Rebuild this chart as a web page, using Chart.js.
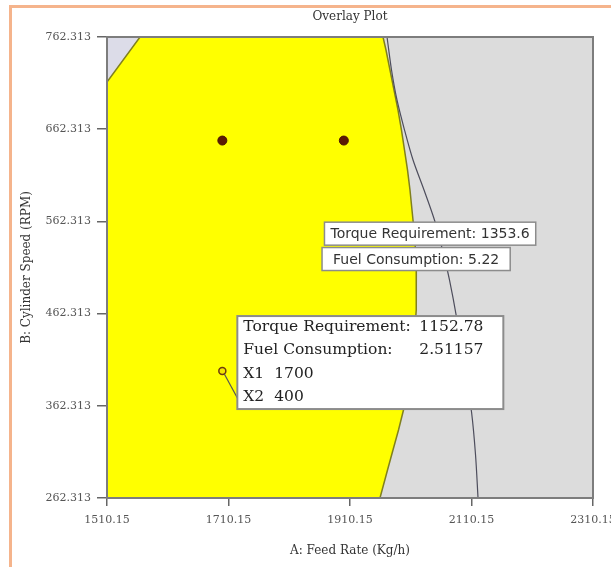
<!DOCTYPE html>
<html>
<head>
<meta charset="utf-8">
<script src="https://cdn.jsdelivr.net/npm/chart.js@4"></script>
<style>
html, body { margin: 0; padding: 0; background: #fff; }
#wrap { position: relative; width: 611px; height: 567px; overflow: hidden; }
#wrap canvas { position: absolute; left: 0; top: 0; }
#frame { position: absolute; left: 9px; top: 5px; width: 660px; height: 660px; border: 3px solid #f5b48c; }
</style>
</head>
<body>
<div id="wrap">
	<canvas id="chart" width="611" height="567"></canvas>
	<div id="frame"></div>
</div>
<script>
const xTicks = [1510.15, 1710.15, 1910.15, 2110.15, 2310.15];
const yTicks = [262.313, 362.313, 462.313, 562.313, 662.313, 762.313];

// yellow window: left edge, the cut corner, then the right boundary from top to bottom
const feasibleX = [1510.15, 1510.15, 1564.5, 1964.5, 1969.4, 1976.0, 1982.6, 1989.2, 1994.9, 1999.9, 2004.8, 2008.9, 2012.2,
	2015.5, 2018.0, 2019.3, 2019.6, 2018.8, 2016.8, 2013.9, 2009.7, 2004.8, 1998.2, 1990.0, 1980.9, 1971.9, 1959.5, 1510.15];
const feasibleY = [262.313, 713.5, 762.313, 762.313, 748.2, 726.5, 704.8, 683.1, 661.4, 639.7, 618.1, 596.4, 574.7,
	553.0, 531.3, 509.6, 487.9, 466.2, 444.5, 422.8, 401.2, 379.5, 357.8, 336.1, 314.4, 292.7, 262.313, 262.313];

// little triangle in the top left corner
const cornerX = [1510.15, 1564.5, 1510.15, 1510.15];
const cornerY = [713.5, 762.313, 762.313, 713.5];

// torque requirement contour
const torqueX = [1971.1, 1978.5, 1987.5, 1999.9, 2013.9, 2032.0, 2049.2, 2062.4, 2073.9, 2086.3, 2099.4, 2110.2, 2116.8, 2120.9];
const torqueY = [762.313, 726.5, 694.0, 661.4, 628.9, 596.4, 563.8, 531.3, 498.8, 455.4, 401.2, 355.6, 309.0, 262.313];

const designX = [1700, 1900];
const designY = [650, 650];

const flagX = 1700;
const flagY = 400;
const flagLabels = ['Torque Requirement:', 'Fuel Consumption:', 'X1', 'X2'];
const flagValues = ['1152.78', '2.51157', '1700', '400'];

const contourLabels = ['Torque Requirement: 1353.6', 'Fuel Consumption: 5.22'];
const contourX = [2042, 2019];
const contourY = [549, 521.5];

const serif = 'DejaVu Serif';

function pts(xs, ys) {
	return xs.map((x, i) => ({ x: x, y: ys[i] }));
}

const plotBackground = {
	id: 'plotBackground',
	beforeDatasetsDraw(chart) {
		const { ctx, chartArea: a } = chart;
		ctx.save();
		ctx.fillStyle = '#dcdcdc';
		ctx.fillRect(a.left, a.top, a.width, a.height);
		ctx.restore();
	},
	afterDatasetsDraw(chart) {
		const { ctx, chartArea: a } = chart;
		ctx.save();
		ctx.strokeStyle = '#7d7d7d';
		ctx.lineWidth = 2;
		ctx.strokeRect(a.left, a.top, a.width, a.height);
		ctx.restore();
	}
};

const callouts = {
	id: 'callouts',
	afterDatasetsDraw(chart) {
		const { ctx, scales: { x, y } } = chart;
		ctx.save();
		ctx.textBaseline = 'middle';

		// contour labels
		ctx.font = '14px "DejaVu Sans"';
		contourLabels.forEach((text, i) => {
			const cx = x.getPixelForValue(contourX[i]);
			const cy = y.getPixelForValue(contourY[i]);
			const w = ctx.measureText(text).width + 12 + i * 10;
			const h = 23;
			ctx.fillStyle = '#fff';
			ctx.fillRect(cx - w / 2, cy - h / 2, w, h);
			ctx.strokeStyle = '#8c8c8c';
			ctx.lineWidth = 1.5;
			ctx.strokeRect(cx - w / 2, cy - h / 2, w, h);
			ctx.fillStyle = '#333';
			ctx.textAlign = 'center';
			ctx.fillText(text, cx, cy + 1);
		});
		ctx.textAlign = 'left';

		// flagged point box
		const px = x.getPixelForValue(flagX);
		const py = y.getPixelForValue(flagY);
		const bx = px + 15, by = py - 55, bw = 266, bh = 93;
		ctx.strokeStyle = '#555';
		ctx.lineWidth = 1.2;
		ctx.beginPath();
		ctx.moveTo(px + 2, py + 3);
		ctx.lineTo(bx + 6, by + bh);
		ctx.stroke();

		ctx.fillStyle = '#fff';
		ctx.fillRect(bx, by, bw, bh);
		ctx.strokeStyle = '#8c8c8c';
		ctx.lineWidth = 2;
		ctx.strokeRect(bx, by, bw, bh);

		ctx.font = '15.5px "' + serif + '"';
		ctx.fillStyle = '#222';
		flagLabels.forEach((label, i) => {
			const ty = by + 11 + i * 23.3;
			ctx.fillText(label, bx + 6, ty);
			const vx = i < 2 ? bx + 182 : bx + 6 + ctx.measureText(label).width + 10;
			ctx.fillText(flagValues[i], vx, ty);
		});
		ctx.restore();
	}
};

new Chart(document.getElementById('chart'), {
	type: 'scatter',
	data: {
		datasets: [
			{
				data: [{ x: flagX, y: flagY }],
				pointRadius: 3.5,
				backgroundColor: '#f2e600',
				borderColor: '#6e3a10',
				borderWidth: 1.5,
				order: 0
			},
			{
				data: pts(designX, designY),
				pointRadius: 4.5,
				backgroundColor: '#5c1a04',
				borderColor: '#4a1503',
				borderWidth: 1,
				order: 1
			},
			{
				data: pts(torqueX, torqueY),
				showLine: true,
				fill: false,
				borderColor: '#4d4d5c',
				borderWidth: 1.2,
				tension: 0.3,
				pointRadius: 0,
				order: 2
			},
			{
				data: pts(feasibleX, feasibleY),
				showLine: true,
				fill: 'shape',
				backgroundColor: '#ffff00',
				borderColor: '#80801e',
				borderWidth: 1.5,
				tension: 0,
				pointRadius: 0,
				order: 3
			},
			{
				data: pts(cornerX, cornerY),
				showLine: true,
				fill: 'shape',
				backgroundColor: '#dcdce8',
				borderColor: 'rgba(0,0,0,0)',
				pointRadius: 0,
				order: 4
			}
		]
	},
	options: {
		responsive: false,
		animation: false,
		events: [],
		layout: { padding: { left: 0, right: 18, top: 0, bottom: 0 } },
		plugins: {
			legend: { display: false },
			tooltip: { enabled: false },
			title: {
				display: true,
				text: 'Overlay Plot',
				fullSize: false,
				color: '#333',
				font: { family: serif, size: 12, weight: 'normal' },
				padding: { top: 10, bottom: 12.6 }
			}
		},
		scales: {
			x: {
				type: 'linear',
				min: 1510.15,
				max: 2310.15,
				afterBuildTicks: (s) => { s.ticks = xTicks.map((v) => ({ value: v })); },
				afterFit: (s) => { s.height = 69; s.paddingLeft = 0; s.paddingRight = 0; },
				ticks: {
					callback: (v) => Number(v).toFixed(2),
					color: '#555',
					font: { family: serif, size: 11 },
					padding: 8,
					maxRotation: 0,
					autoSkip: false
				},
				grid: { drawOnChartArea: false, tickLength: 8, color: '#666', lineWidth: 1.5 },
				border: { color: '#7d7d7d', width: 2 },
				title: {
					display: true,
					text: 'A: Feed Rate (Kg/h)',
					color: '#333',
					font: { family: serif, size: 12 },
					padding: { top: 0, bottom: 9 }
				}
			},
			y: {
				type: 'linear',
				min: 262.313,
				max: 762.313,
				afterBuildTicks: (s) => { s.ticks = yTicks.map((v) => ({ value: v })); },
				afterFit: (s) => { s.width = 107; },
				ticks: {
					callback: (v) => Number(v).toFixed(3),
					color: '#555',
					font: { family: serif, size: 11 },
					padding: 6,
					autoSkip: false
				},
				grid: { drawOnChartArea: false, tickLength: 10, color: '#666', lineWidth: 1.5 },
				border: { color: '#7d7d7d', width: 2 },
				title: {
					display: true,
					text: 'B: Cylinder Speed (RPM)',
					color: '#333',
					font: { family: serif, size: 12 },
					padding: { top: 20, bottom: 0 }
				}
			}
		}
	},
	plugins: [plotBackground, callouts]
});
</script>
</body>
</html>
